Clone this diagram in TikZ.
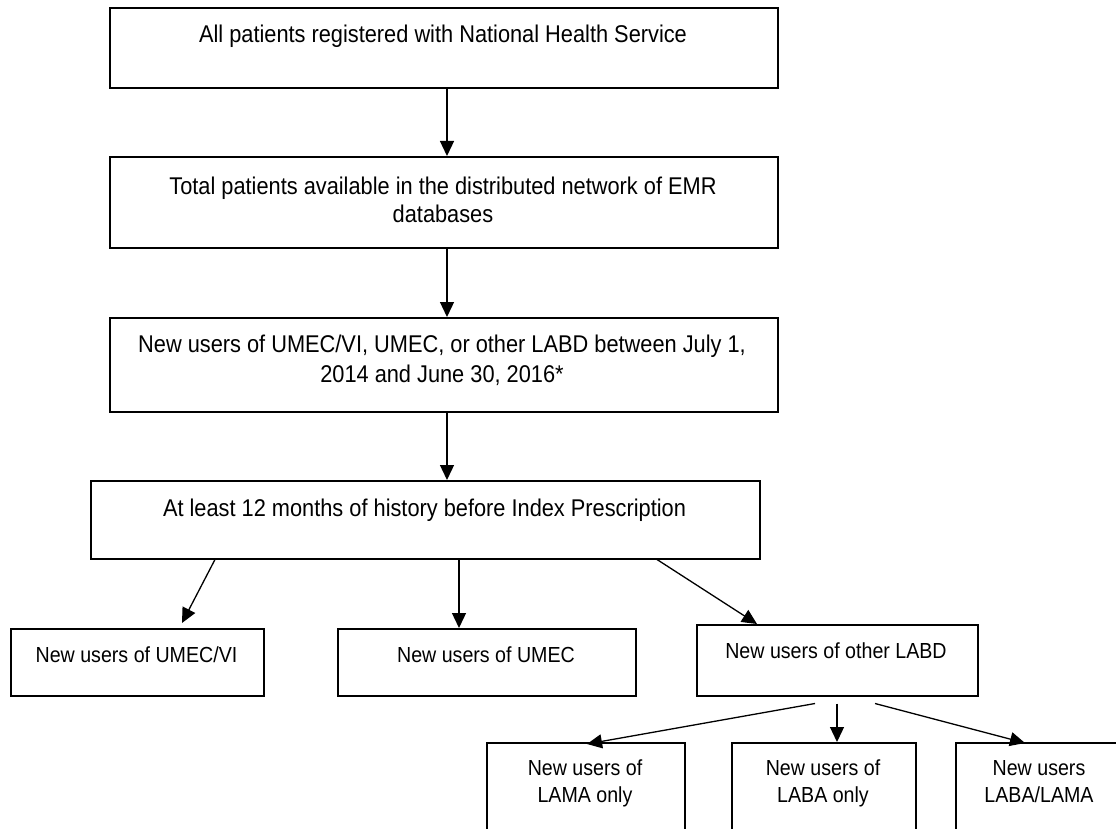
\documentclass[tikz,border=0pt]{standalone}
\usepackage{fontspec}
\setmainfont{Liberation Sans}[FakeStretch=0.9]
\usetikzlibrary{arrows.meta}
\begin{document}
\begin{tikzpicture}[x=1pt,y=-1pt,
  box/.style={draw=black, line width=1.5pt, rectangle, inner sep=0pt, anchor=north west},
  bigbox/.style={box, line width=1.8pt},
  txt/.style={inner sep=0pt, anchor=base},
  big/.style={font=\fontsize{24.2}{28}\selectfont},
  small/.style={font=\fontsize{21.8}{27}\selectfont},
  arr/.style={-{Triangle[length=15pt,width=14pt]}, line width=1.3pt}]
\useasboundingbox (0,0) rectangle (1116,829);
\clip (0,0) rectangle (1116,829);
\fill[white] (0,0) rectangle (1116,829);

% boxes
\node[bigbox, minimum width=668pt, minimum height=80pt] (b1) at (109,7) {};
\node[bigbox, minimum width=668pt, minimum height=91pt] (b2) at (109,156) {};
\node[bigbox, minimum width=668pt, minimum height=94pt] (b3) at (109,317) {};
\node[box, minimum width=669pt, minimum height=78pt] (b4) at (90,480) {};
\node[box, minimum width=253pt, minimum height=67pt] (u1) at (10,628) {};
\node[box, minimum width=298pt, minimum height=67pt] (u2) at (337,628) {};
\node[box, minimum width=281pt, minimum height=71pt] (u3) at (696,624) {};
\node[box, minimum width=198pt, minimum height=120pt] (l1) at (486,742) {};
\node[box, minimum width=184pt, minimum height=120pt] (l2) at (731,742) {};
\node[box, minimum width=168pt, minimum height=120pt] (l3) at (955,742) {};

% texts
\node[txt, big] (b1t) at (443,43) {All patients registered with National Health Service};
\node[txt, big] (b2t) at (443,195) {\parbox[t]{700pt}{\centering Total patients available in the distributed network of EMR\\databases}};
\node[txt, big] (b3t) at (442,352) {\parbox[t]{700pt}{\centering\fontsize{24.2}{30}\selectfont New users of UMEC/VI, UMEC, or other LABD between July 1,\\2014 and June 30, 2016*}};
\node[txt, big] (b4t) at (424.5,516) {At least 12 months of history before Index Prescription};
\node[txt, small] (u1t) at (136.5,662) {New users of UMEC/VI};
\node[txt, small] (u2t) at (486,662) {New users of UMEC};
\node[txt, small] (u3t) at (836,658) {New users of other LABD};
\node[txt, small] (l1t) at (585,775) {\parbox[t]{200pt}{\centering New users of\\LAMA only}};
\node[txt, small] (l2t) at (823,775) {\parbox[t]{200pt}{\centering New users of\\LABA only}};
\node[txt, small] (l3t) at (1039,775) {\parbox[t]{200pt}{\centering New users\\LABA/LAMA}};

% connector x positions
\coordinate (ax) at (447,0);
\coordinate (s1) at (215,0);
\coordinate (e1) at (182,0);
\coordinate (s2) at (459,0);
\coordinate (s3) at (657,0);
\coordinate (e3) at (757,0);
\coordinate (t1) at (815,0);
\coordinate (f1) at (587,0);
\coordinate (t2) at (837,0);
\coordinate (t3) at (875,0);
\coordinate (f3) at (1025,0);

\draw[arr] (b1.south -| ax) -- (b2.north -| ax);
\draw[arr] (b2.south -| ax) -- (b3.north -| ax);
\draw[arr] (b3.south -| ax) -- (b4.north -| ax);

\draw[arr] (b4.south -| s1) -- ([yshift=5pt]u1.north -| e1);
\draw[arr] (b4.south -| s2) -- (u2.north -| s2);
\draw[arr] (b4.south -| s3) -- (u3.north -| e3);

\draw[arr] ([yshift=-7pt]u3.south -| t1) -- ([yshift=-2pt]l1.north -| f1);
\draw[arr] ([yshift=-7pt]u3.south -| t2) -- (l2.north -| t2);
\draw[arr] ([yshift=-7pt]u3.south -| t3) -- ([yshift=-1pt]l3.north -| f3);
\end{tikzpicture}
\end{document}
